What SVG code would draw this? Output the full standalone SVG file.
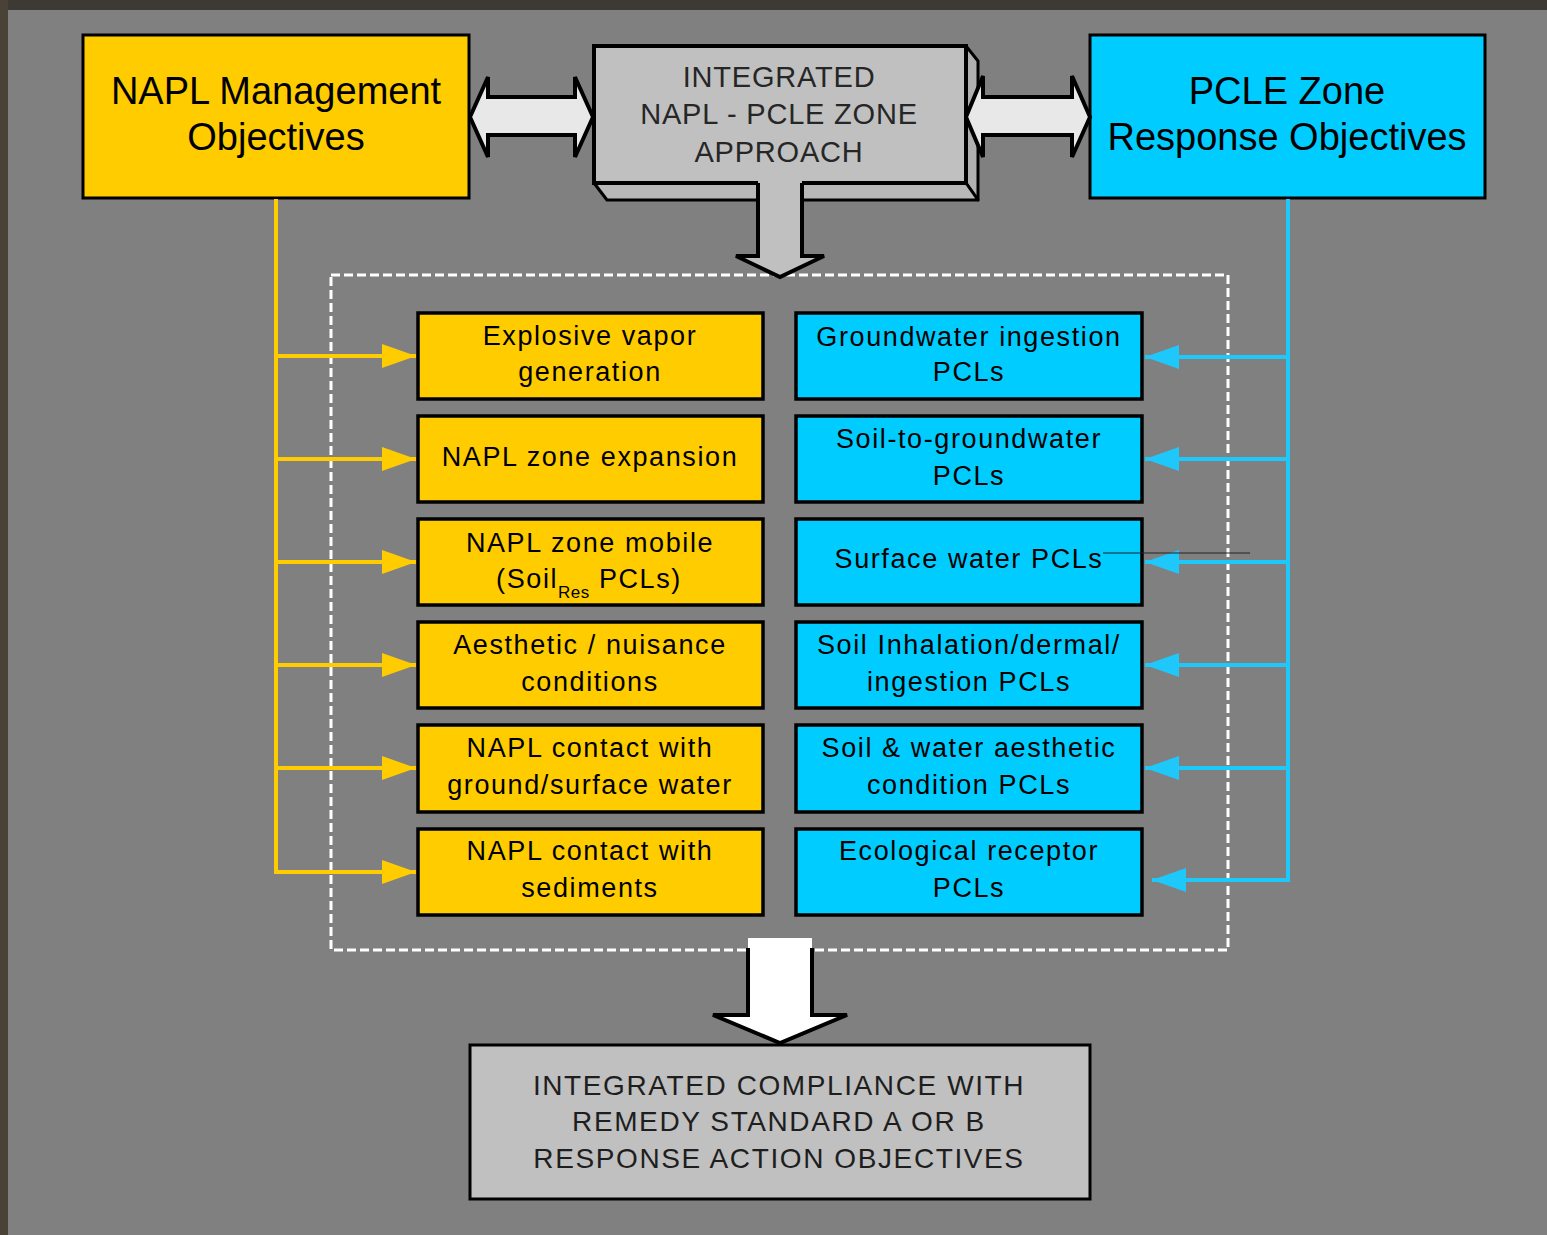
<svg xmlns="http://www.w3.org/2000/svg" width="1547" height="1235" viewBox="0 0 1547 1235">
<defs>
<style>
text{font-family:"Liberation Sans",Arial,sans-serif;text-anchor:middle;fill:#000}
.title{font-size:38px}
.mid{font-size:29px;fill:#262626;letter-spacing:0.8px}
.bot{font-size:28px;fill:#1e1e1e;letter-spacing:1.6px}
.sm{font-size:27px;letter-spacing:1.6px}
.sub{font-size:17px;letter-spacing:0.5px}
.ybox{fill:#ffcc00;stroke:#000;stroke-width:3.5}
.bbox{fill:#00ccff;stroke:#000;stroke-width:3.5}
.yl{stroke:#ffcc00;stroke-width:4;fill:none}
.bl{stroke:#1ec8fa;stroke-width:4;fill:none}
.bigarrow{fill:#e8e8e8;stroke:#000;stroke-width:4;stroke-linejoin:miter}
</style>
<marker id="ya" viewBox="0 0 34 24" refX="34" refY="12" markerWidth="34" markerHeight="24" markerUnits="userSpaceOnUse" orient="auto">
<path d="M0,0 L34,12 L0,24 Z" fill="#ffcc00"/>
</marker>
<marker id="ba" viewBox="0 0 34 24" refX="34" refY="12" markerWidth="34" markerHeight="24" markerUnits="userSpaceOnUse" orient="auto">
<path d="M0,0 L34,12 L0,24 Z" fill="#1ec8fa"/>
</marker>
</defs>

<rect x="0" y="0" width="1547" height="1235" fill="#3d3a36"/>
<rect x="0" y="0" width="8" height="1235" fill="#4a4236"/>
<rect x="8" y="10" width="1539" height="1225" fill="#808080"/>

<!-- dashed grouping frame -->
<rect id="frame" x="331" y="275" width="897" height="675" fill="none" stroke="#fff" stroke-width="3" stroke-dasharray="9 4"/>

<g id="napl-objectives">
  <rect x="83" y="35" width="386" height="163" fill="#ffcc00" stroke="#000" stroke-width="3"/>
  <text class="title" x="276" y="104">NAPL Management</text>
  <text class="title" x="276" y="150">Objectives</text>
</g>

<g id="pcle-objectives">
  <rect x="1090" y="35" width="395" height="163" fill="#00ccff" stroke="#000" stroke-width="3"/>
  <text class="title" x="1287" y="104">PCLE Zone</text>
  <text class="title" x="1287" y="150">Response Objectives</text>
</g>

<g id="integrated-approach">
  <polygon points="966,46 978,61 978,200 966,183" fill="#b0b0b0" stroke="#000" stroke-width="3" stroke-linejoin="round"/>
  <polygon points="594,183 966,183 978,200 607,200" fill="#b8b8b8" stroke="#000" stroke-width="3" stroke-linejoin="round"/>
  <rect x="594" y="46" width="372" height="137" fill="#c0c0c0" stroke="#000" stroke-width="4"/>
  <text class="mid" x="779" y="87">INTEGRATED</text>
  <text class="mid" x="779" y="124">NAPL - PCLE ZONE</text>
  <text class="mid" x="779" y="162">APPROACH</text>
  <!-- downward arrow merging with the box -->
  <polygon points="758,181 758,256 736,256 780,277 824,256 802,256 802,181" fill="#c0c0c0"/>
  <polyline points="758,183 758,256 736,256 780,277 824,256 802,256 802,183" fill="none" stroke="#000" stroke-width="4"/>
</g>

<g id="y1"><rect class="ybox" x="418" y="313" width="345" height="86"/>
  <text class="sm" x="590" y="345">Explosive vapor</text><text class="sm" x="590" y="381">generation</text></g>
<g id="y2"><rect class="ybox" x="418" y="416" width="345" height="86"/>
  <text class="sm" x="590" y="466">NAPL zone expansion</text></g>
<g id="y3"><rect class="ybox" x="418" y="519" width="345" height="86"/>
  <text class="sm" x="590" y="552">NAPL zone mobile</text>
  <text class="sm" x="589" y="588">(Soil<tspan class="sub" dy="10">Res</tspan><tspan dy="-10"> PCLs)</tspan></text></g>
<g id="y4"><rect class="ybox" x="418" y="622" width="345" height="86"/>
  <text class="sm" x="590" y="654">Aesthetic / nuisance</text><text class="sm" x="590" y="691">conditions</text></g>
<g id="y5"><rect class="ybox" x="418" y="725" width="345" height="87"/>
  <text class="sm" x="590" y="757">NAPL contact with</text><text class="sm" x="590" y="794">ground/surface water</text></g>
<g id="y6"><rect class="ybox" x="418" y="829" width="345" height="86"/>
  <text class="sm" x="590" y="860">NAPL contact with</text><text class="sm" x="590" y="897">sediments</text></g>

<g id="b1"><rect class="bbox" x="796" y="313" width="346" height="86"/>
  <text class="sm" x="969" y="346">Groundwater ingestion</text><text class="sm" x="969" y="381">PCLs</text></g>
<g id="b2"><rect class="bbox" x="796" y="416" width="346" height="86"/>
  <text class="sm" x="969" y="448">Soil-to-groundwater</text><text class="sm" x="969" y="485">PCLs</text></g>
<g id="b3"><rect class="bbox" x="796" y="519" width="346" height="86"/>
  <text class="sm" x="969" y="568">Surface water PCLs</text></g>
<g id="b4"><rect class="bbox" x="796" y="622" width="346" height="86"/>
  <text class="sm" x="969" y="654">Soil Inhalation/dermal/</text><text class="sm" x="969" y="691">ingestion PCLs</text></g>
<g id="b5"><rect class="bbox" x="796" y="725" width="346" height="87"/>
  <text class="sm" x="969" y="757">Soil &amp; water aesthetic</text><text class="sm" x="969" y="794">condition PCLs</text></g>
<g id="b6"><rect class="bbox" x="796" y="829" width="346" height="86"/>
  <text class="sm" x="969" y="860">Ecological receptor</text><text class="sm" x="969" y="897">PCLs</text></g>

<g id="compliance">
  <polygon points="748,938 812,938 812,1015 847,1015 780,1043 713,1015 748,1015" fill="#fff"/>
  <polyline points="748,948 748,1015 713,1015 780,1043 847,1015 812,1015 812,948" fill="none" stroke="#000" stroke-width="4"/>
  <rect x="470" y="1045" width="620" height="154" fill="#c0c0c0" stroke="#000" stroke-width="3"/>
  <text class="bot" x="779" y="1095">INTEGRATED COMPLIANCE WITH</text>
  <text class="bot" x="779" y="1131">REMEDY STANDARD A OR B</text>
  <text class="bot" x="779" y="1168">RESPONSE ACTION OBJECTIVES</text>
</g>

<g id="connectors">
  <!-- yellow tree -->
  <path class="yl" d="M276,199 V872"/>
  <path class="yl" d="M276,356 H416" marker-end="url(#ya)"/>
  <path class="yl" d="M276,459 H416" marker-end="url(#ya)"/>
  <path class="yl" d="M276,562 H416" marker-end="url(#ya)"/>
  <path class="yl" d="M276,665 H416" marker-end="url(#ya)"/>
  <path class="yl" d="M276,768 H416" marker-end="url(#ya)"/>
  <path class="yl" d="M274,872 H416" marker-end="url(#ya)"/>
  <!-- blue tree -->
  <path class="bl" d="M1288,199 V882"/>
  <path class="bl" d="M1288,357 H1145" marker-end="url(#ba)"/>
  <path class="bl" d="M1288,459 H1145" marker-end="url(#ba)"/>
  <path class="bl" d="M1288,562 H1145" marker-end="url(#ba)"/>
  <path class="bl" d="M1288,665 H1145" marker-end="url(#ba)"/>
  <path class="bl" d="M1288,768 H1145" marker-end="url(#ba)"/>
  <path class="bl" d="M1290,880 H1152" marker-end="url(#ba)"/>
  <line x1="1103" y1="553" x2="1250" y2="553" stroke="#222" stroke-width="1"/>
  <!-- double arrows -->
  <polygon class="bigarrow" points="470,117 488,77 488,97 575,97 575,77 593,117 575,157 575,135 488,135 488,157"/>
  <polygon class="bigarrow" points="966,117 983,76 983,97 1072,97 1072,76 1090,117 1072,157 1072,135 983,135 983,157"/>
</g>
</svg>
